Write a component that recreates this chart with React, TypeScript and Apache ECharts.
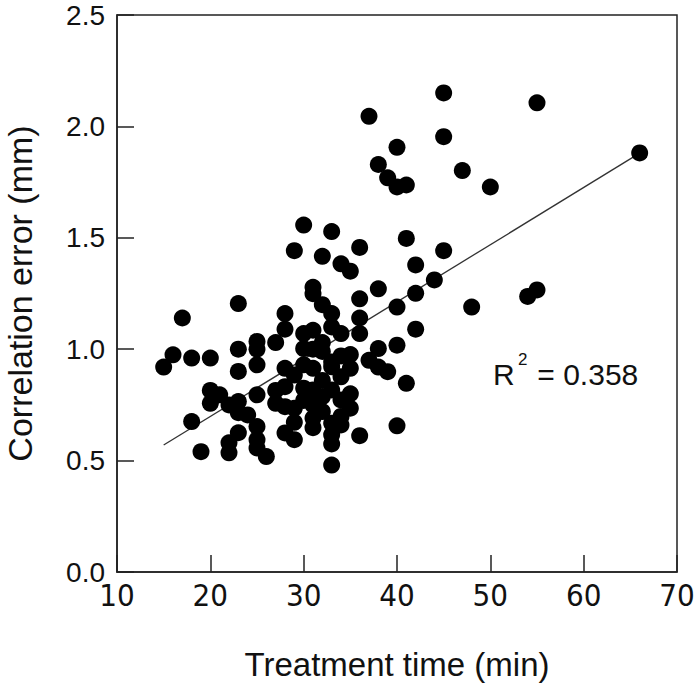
import React, { useEffect, useRef } from "react";
import * as echarts from "echarts";

const timeMin: number[] = [
  15, 16, 17, 18, 18, 19, 20, 20, 20, 21, 22, 22, 22,
  23, 23, 23, 23, 23, 23, 24,
  25, 25, 25, 25, 25, 25, 25, 26,
  27, 27, 27,
  28, 28, 28, 28, 28, 28,
  29, 29, 29, 29, 29,
  30, 30, 30, 30, 30, 30,
  31, 31, 31, 31, 31, 31, 31, 31, 31,
  32, 32, 32, 32, 32, 32, 32,
  33, 33, 33, 33, 33, 33, 33, 33, 33, 33,
  34, 34, 34, 34, 34, 34, 34,
  35, 35, 35, 35, 35,
  36, 36, 36, 36, 36,
  37, 37,
  38, 38, 38, 38,
  39, 39,
  40, 40, 40, 40, 40,
  41, 41, 41,
  42, 42, 42,
  44, 45, 45, 45, 47, 48, 50, 54, 55, 55, 66,
];

const errorMm: number[] = [
  0.92, 0.975, 1.14, 0.96, 0.675, 0.54, 0.96, 0.815, 0.757, 0.795, 0.75, 0.58, 0.535,
  1.205, 1.0, 0.9, 0.765, 0.715, 0.625, 0.705,
  1.035, 1.0, 0.93, 0.795, 0.653, 0.594, 0.557, 0.518,
  1.03, 0.815, 0.757,
  1.16, 1.09, 0.914, 0.832, 0.742, 0.624,
  1.442, 0.884, 0.735, 0.672, 0.594,
  1.557, 1.07, 1.003, 0.825, 0.93, 0.77,
  1.278, 1.249, 1.085, 1.0, 0.914, 0.817, 0.75, 0.69, 0.648,
  1.417, 1.2, 0.99, 0.787, 1.03, 0.86, 0.72,
  1.528, 1.16, 1.1, 0.943, 0.921, 0.817, 0.668, 0.616, 0.575, 0.48,
  1.383, 1.07, 0.97, 0.876, 0.772, 0.698, 0.66,
  1.35, 0.976, 0.914, 0.735, 0.8,
  1.457, 1.226, 1.14, 1.07, 0.612,
  2.045, 0.95,
  1.829, 1.271, 1.003, 0.92,
  1.769, 0.899,
  1.906, 1.728, 1.189, 1.018, 0.656,
  1.737, 1.497, 0.847,
  1.378, 1.251, 1.09,
  1.311, 2.15, 1.954, 1.442, 1.802, 1.189, 1.728, 1.237, 2.106, 1.266, 1.881,
];

const fitX: number[] = [15, 66];
const fitY: number[] = [0.57, 1.88];

const xTicks: number[] = [10, 20, 30, 40, 50, 60, 70];
const yTicks: number[] = [0, 0.5, 1.0, 1.5, 2.0, 2.5];

const rSquared = "0.358";

export default function App() {
  const ref = useRef<HTMLDivElement>(null);
  useEffect(() => {
    if (!ref.current) return;
    const chart = echarts.init(ref.current, undefined, { renderer: "svg" });
    const points = timeMin.map((t, i) => [t, errorMm[i]]);
    const fit = fitX.map((t, i) => [t, fitY[i]]);
    chart.setOption({
      animation: false,
      backgroundColor: "#ffffff",
      grid: {
        left: 117,
        top: 15,
        right: 17,
        bottom: 112,
        containLabel: false,
        outerBoundsMode: "none",
        show: true,
        borderColor: "#222",
        borderWidth: 1.5,
        backgroundColor: "transparent",
      },
      xAxis: {
        type: "value",
        min: xTicks[0],
        max: xTicks[xTicks.length - 1],
        interval: 10,
        name: "Treatment time (min)",
        nameLocation: "middle",
        nameGap: 76,
        nameTextStyle: {
          fontFamily: "Liberation Sans",
          fontSize: 33,
          lineHeight: 33,
          color: "#111",
          verticalAlign: "top",
        },
        axisLine: { show: true, lineStyle: { color: "#222", width: 1.5 } },
        axisTick: { show: true, inside: true, length: 17, lineStyle: { color: "#222", width: 1.5 } },
        axisLabel: {
          margin: 7,
          fontFamily: "'DejaVu Sans Condensed', 'Liberation Sans', sans-serif",
          fontSize: 31,
          color: "#111",
          formatter: (v: number) => String(v),
        },
        splitLine: { show: false },
      },
      yAxis: {
        type: "value",
        min: yTicks[0],
        max: yTicks[yTicks.length - 1],
        interval: 0.5,
        name: "Correlation error (mm)",
        nameLocation: "middle",
        nameGap: 80,
        nameRotate: 90,
        nameTextStyle: {
          fontFamily: "Liberation Sans",
          fontSize: 34,
          lineHeight: 34,
          color: "#111",
        },
        axisLine: { show: true, lineStyle: { color: "#222", width: 1.5 } },
        axisTick: { show: true, inside: true, length: 17, lineStyle: { color: "#222", width: 1.5 } },
        axisLabel: {
          margin: 12,
          fontFamily: "Liberation Sans",
          fontSize: 28,
          lineHeight: 26,
          color: "#111",
          formatter: (v: number) => v.toFixed(1),
        },
        splitLine: { show: false },
      },
      series: [
        {
          type: "line",
          data: fit,
          symbol: "none",
          lineStyle: { color: "#333", width: 1.3 },
          silent: true,
          z: 1,
        },
        {
          type: "scatter",
          data: points,
          symbol: "circle",
          symbolSize: 17,
          itemStyle: { color: "#000", opacity: 1 },
          z: 2,
        },
      ],
      graphic: [
        {
          type: "text",
          left: 493,
          top: 359,
          style: { text: "R", fontFamily: "Liberation Sans", fontSize: 30, fill: "#111" },
        },
        {
          type: "text",
          left: 518,
          top: 351,
          style: { text: "2", fontFamily: "Liberation Sans", fontSize: 17, fill: "#111" },
        },
        {
          type: "text",
          left: 529,
          top: 359,
          style: { text: " = " + rSquared, fontFamily: "Liberation Sans", fontSize: 30, fill: "#111" },
        },
      ],
    });
    return () => chart.dispose();
  }, []);
  return (
    <div
      style={{
        position: "absolute",
        left: 0,
        top: 0,
        width: 694,
        height: 684,
        overflow: "hidden",
        background: "#fff",
      }}
    >
      <div ref={ref} style={{ width: 694, height: 684 }} />
    </div>
  );
}
